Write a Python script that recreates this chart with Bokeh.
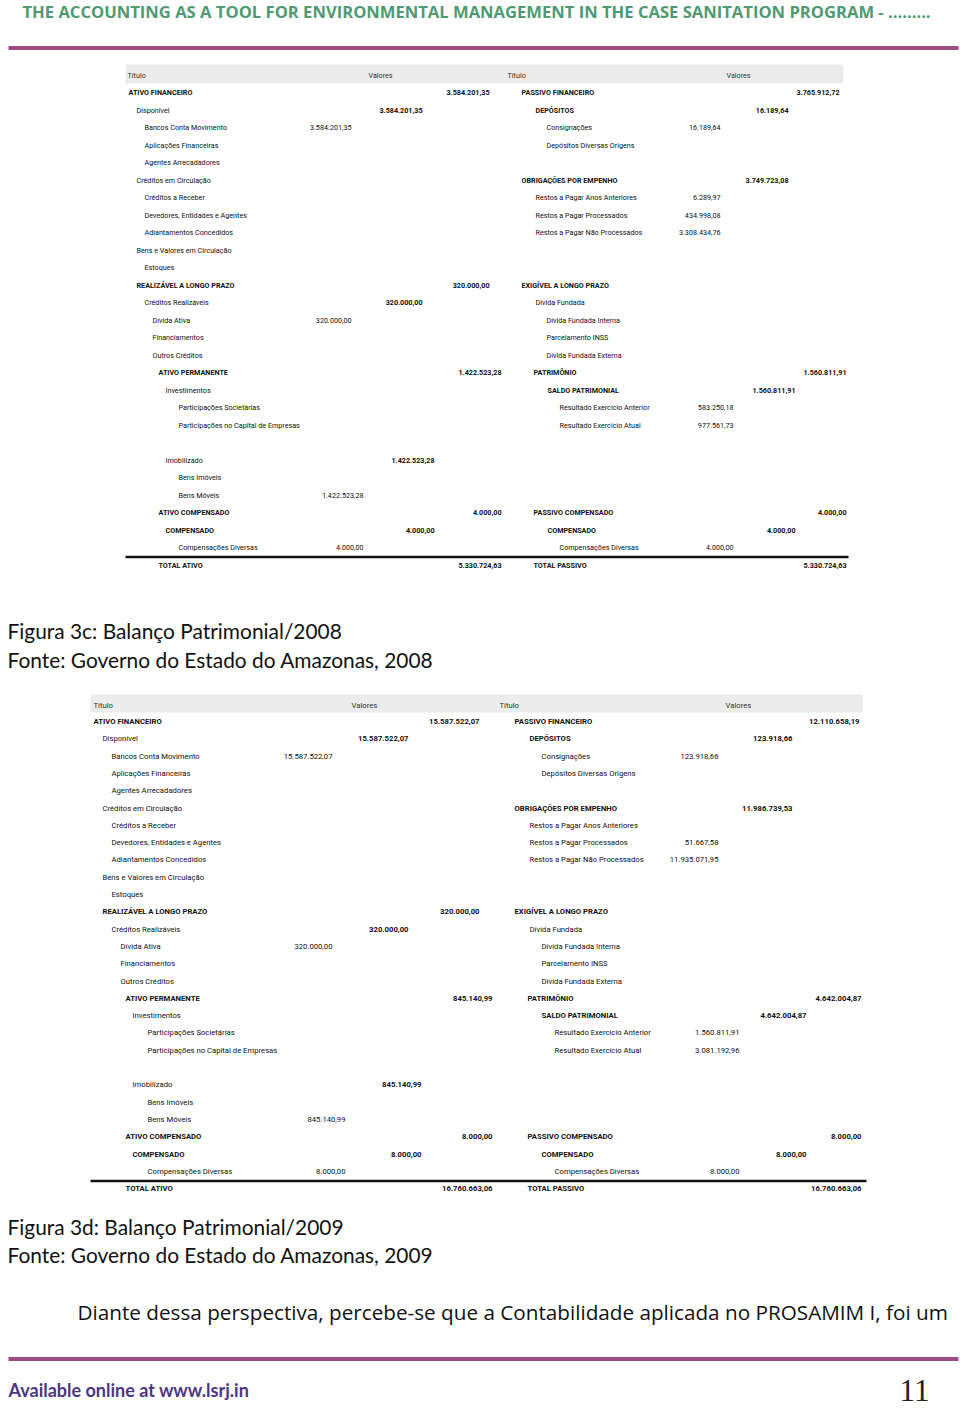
from bokeh.plotting import figure
from bokeh.models import Range1d, ColumnDataSource
from bokeh.core.properties import value
from bokeh.embed import file_html
from bokeh.resources import INLINE

# ---------------- data ----------------
PAGE_TITLE = "THE ACCOUNTING AS A TOOL FOR ENVIRONMENTAL MANAGEMENT IN THE CASE SANITATION PROGRAM  - ........."
HEADER_LABELS = ["Título", "Valores"]

LEFT_LABELS = ["ATIVO FINANCEIRO", "Disponível", "Bancos Conta Movimento", "Aplicações Financeiras",
               "Agentes Arrecadadores", "Créditos em Circulação", "Créditos a Receber",
               "Devedores, Entidades e Agentes", "Adiantamentos Concedidos", "Bens e Valores em Circulação",
               "Estoques", "REALIZÁVEL A LONGO PRAZO", "Créditos Realizáveis", "Dívida Ativa",
               "Financiamentos", "Outros Créditos", "ATIVO PERMANENTE", "Investimentos",
               "Participações Societárias", "Participações no Capital de Empresas", "", "Imobilizado",
               "Bens Imóveis", "Bens Móveis", "ATIVO COMPENSADO", "COMPENSADO", "Compensações Diversas",
               "TOTAL ATIVO"]
LEFT_LEVELS = [0, 1, 2, 2, 2, 1, 2, 2, 2, 1, 2, 1, 2, 3, 3, 3,
               0, 1, 2, 2, 0, 1, 2, 2, 0, 1, 2, 0]
LEFT_VALUE_COLS = [3, 2, 1, 0, 0, 0, 0, 0, 0, 0, 0, 3, 2, 1, 0, 0,
                   3, 0, 0, 0, 0, 2, 0, 1, 3, 2, 1, 3]
ASSETS_2008 = [3584201.35, 3584201.35, 3584201.35, None, None, None, None, None, None, None, None,
               320000.00, 320000.00, 320000.00, None, None,
               1422523.28, None, None, None, None, 1422523.28, None, 1422523.28,
               4000.00, 4000.00, 4000.00, 5330724.63]
ASSETS_2009 = [15587522.07, 15587522.07, 15587522.07, None, None, None, None, None, None, None, None,
               320000.00, 320000.00, 320000.00, None, None,
               845140.99, None, None, None, None, 845140.99, None, 845140.99,
               8000.00, 8000.00, 8000.00, 16760663.06]

RIGHT_LABELS = ["PASSIVO FINANCEIRO", "DEPÓSITOS", "Consignações", "Depósitos Diversas Origens", "",
                "OBRIGAÇÕES POR EMPENHO", "Restos a Pagar Anos Anteriores", "Restos a Pagar Processados",
                "Restos a Pagar Não Processados", "", "", "EXIGÍVEL A LONGO PRAZO", "Dívida Fundada",
                "Dívida Fundada Interna", "Parcelamento INSS", "Dívida Fundada Externa", "PATRIMÔNIO",
                "SALDO PATRIMONIAL", "Resultado Exercício Anterior", "Resultado Exercício Atual",
                "", "", "", "", "PASSIVO COMPENSADO", "COMPENSADO", "Compensações Diversas", "TOTAL PASSIVO"]
RIGHT_LEVELS = [0, 1, 2, 2, 0, 0, 1, 1, 1, 0, 0, 0, 1, 2, 2, 2,
                0, 1, 2, 2, 0, 0, 0, 0, 0, 1, 2, 0]
RIGHT_VALUE_COLS = [3, 2, 1, 0, 0, 2, 1, 1, 1, 0, 0, 0, 0, 0, 0, 0,
                    3, 2, 1, 1, 0, 0, 0, 0, 3, 2, 1, 3]
LIABILITIES_2008 = [3765912.72, 16189.64, 16189.64, None, None, 3749723.08, 6289.97, 434998.08, 3308434.76,
                    None, None, None, None, None, None, None,
                    1560811.91, 1560811.91, 583250.18, 977561.73, None, None, None, None,
                    4000.00, 4000.00, 4000.00, 5330724.63]
LIABILITIES_2009 = [12110658.19, 123918.66, 123918.66, None, None, 11986739.53, None, 51667.58, 11935071.95,
                    None, None, None, None, None, None, None,
                    4642004.87, 4642004.87, 1560811.91, 3081192.96, None, None, None, None,
                    8000.00, 8000.00, 8000.00, 16760663.06]

CAPTIONS_2008 = ["Figura 3c: Balanço Patrimonial/2008", "Fonte: Governo do Estado do Amazonas, 2008"]
CAPTIONS_2009 = ["Figura 3d: Balanço Patrimonial/2009", "Fonte: Governo do Estado do Amazonas, 2009"]
BODY_TEXT = "Diante dessa perspectiva, percebe-se que a Contabilidade aplicada no PROSAMIM I, foi um"
FOOTER_TEXT = "Available online at www.lsrj.in"
PAGE_NUMBER = "11"

# ---------------- layout ----------------
W, H = 960, 1409
LOWER_START = 16
TABLE_FONT = "Roboto"
GREEN = "#4f9a72"
PURPLE = "#9b4a84"
TEXT = "#0f0f0f"

LAYOUTS = [
    dict(top=92, step=17.5, band=(125, 843, 64, 83), head_y=75, fs=7.2,
         heads=[127, 368, 507, 726],
         L_upper=(128, [0, 8, 16, 24]), L_lower=(158, [0, 7, 20]),
         R_upper=(521, [0, 14, 25]), R_lower=(533, [0, 14, 26]),
         L_cols=([351, 422, 489], [363, 434, 501]),
         R_cols=([720, 788, 839], [733, 795, 846]),
         rule=(125, 848, 556.5),
         cap_y=(630, 659)),
    dict(top=721, step=17.3, band=(90, 862, 694, 712), head_y=705, fs=7.7,
         heads=[93, 351, 499, 725],
         L_upper=(93, [0, 9, 18, 27]), L_lower=(125, [0, 7, 22]),
         R_upper=(514, [0, 15, 27]), R_lower=(527, [0, 14, 27]),
         L_cols=([332, 408, 479], [345, 421, 492]),
         R_cols=([718, 792, 859], [739, 806, 861]),
         rule=(90, 866, 1180.5),
         cap_y=(1226, 1254)),
]


def br(v):
    s = f"{v:,.2f}"
    return s.replace(",", "X").replace(".", ",").replace("X", ".")


p = figure(width=W, height=H, x_range=Range1d(0, W), y_range=Range1d(H, 0),
           output_backend="svg", toolbar_location=None, min_border=0)
p.axis.visible = False
p.grid.visible = False
p.outline_line_color = None
p.background_fill_color = "white"
p.border_fill_color = "white"


def txt(xs, ys, texts, font, size, style="normal", color=TEXT, align="left", baseline="middle"):
    src = ColumnDataSource(dict(x=xs, y=ys, t=texts))
    p.text(x="x", y="y", text="t", source=src, text_font=value(font), text_font_size=value(f"{size}px"),
           text_font_style=style, text_color=color, text_align=align, text_baseline=baseline)


# page header
txt([22], [11], [PAGE_TITLE], "Open Sans", 16.6, "bold", GREEN)
p.segment(x0=[8, 8], y0=[47.5, 1358.5], x1=[958, 958], y1=[47.5, 1358.5], line_color=PURPLE, line_width=4)


def draw_side(lay, labels, levels, cols, values, upper_key, lower_key, col_key):
    lab_b = dict(x=[], y=[], t=[])
    lab_n = dict(x=[], y=[], t=[])
    val_b = dict(x=[], y=[], t=[])
    val_n = dict(x=[], y=[], t=[])
    for i in range(len(labels)):
        y = lay["top"] + i * lay["step"]
        lower = i >= LOWER_START
        base, offs = lay[lower_key] if lower else lay[upper_key]
        if labels[i]:
            d = lab_b if labels[i].isupper() else lab_n
            d["x"].append(base + offs[levels[i]])
            d["y"].append(y)
            d["t"].append(labels[i])
        if values[i] is not None and cols[i] > 0:
            cx = lay[col_key][1 if lower else 0][cols[i] - 1]
            d = val_n if cols[i] == 1 else val_b
            d["x"].append(cx)
            d["y"].append(y)
            d["t"].append(br(values[i]))
    fs = lay["fs"]
    txt(lab_b["x"], lab_b["y"], lab_b["t"], TABLE_FONT, fs, "bold")
    txt(lab_n["x"], lab_n["y"], lab_n["t"], TABLE_FONT, fs, "normal")
    txt(val_b["x"], val_b["y"], val_b["t"], TABLE_FONT, fs, "bold", align="right")
    txt(val_n["x"], val_n["y"], val_n["t"], TABLE_FONT, fs, "normal", align="right")


for lay, left_vals, right_vals, caps in [(LAYOUTS[0], ASSETS_2008, LIABILITIES_2008, CAPTIONS_2008),
                                         (LAYOUTS[1], ASSETS_2009, LIABILITIES_2009, CAPTIONS_2009)]:
    x0, x1, y0, y1 = lay["band"]
    p.quad(left=[x0], right=[x1], top=[y0], bottom=[y1], fill_color="#ebebeb", line_color=None)
    hx = lay["heads"]
    txt(hx, [lay["head_y"]] * 4, HEADER_LABELS * 2, TABLE_FONT, lay["fs"], "normal", "#333333")
    draw_side(lay, LEFT_LABELS, LEFT_LEVELS, LEFT_VALUE_COLS, left_vals, "L_upper", "L_lower", "L_cols")
    draw_side(lay, RIGHT_LABELS, RIGHT_LEVELS, RIGHT_VALUE_COLS, right_vals, "R_upper", "R_lower", "R_cols")
    rx0, rx1, ry = lay["rule"]
    p.segment(x0=[rx0], y0=[ry], x1=[rx1], y1=[ry], line_color="#111111", line_width=2.5)
    txt([7, 7], list(lay["cap_y"]), caps, "Lato", 20.9, "normal", "#111111")

# body text and footer
txt([77], [1311], [BODY_TEXT], "Open Sans", 20.7, "normal", "#111111")
txt([8], [1389], [FOOTER_TEXT], "Lato", 18, "bold", "#4d3585")
txt([914], [1400], [PAGE_NUMBER], "Liberation Serif", 31, "normal", "#222222", align="center",
    baseline="bottom")

open("out.html", "w").write(file_html(p, INLINE))
